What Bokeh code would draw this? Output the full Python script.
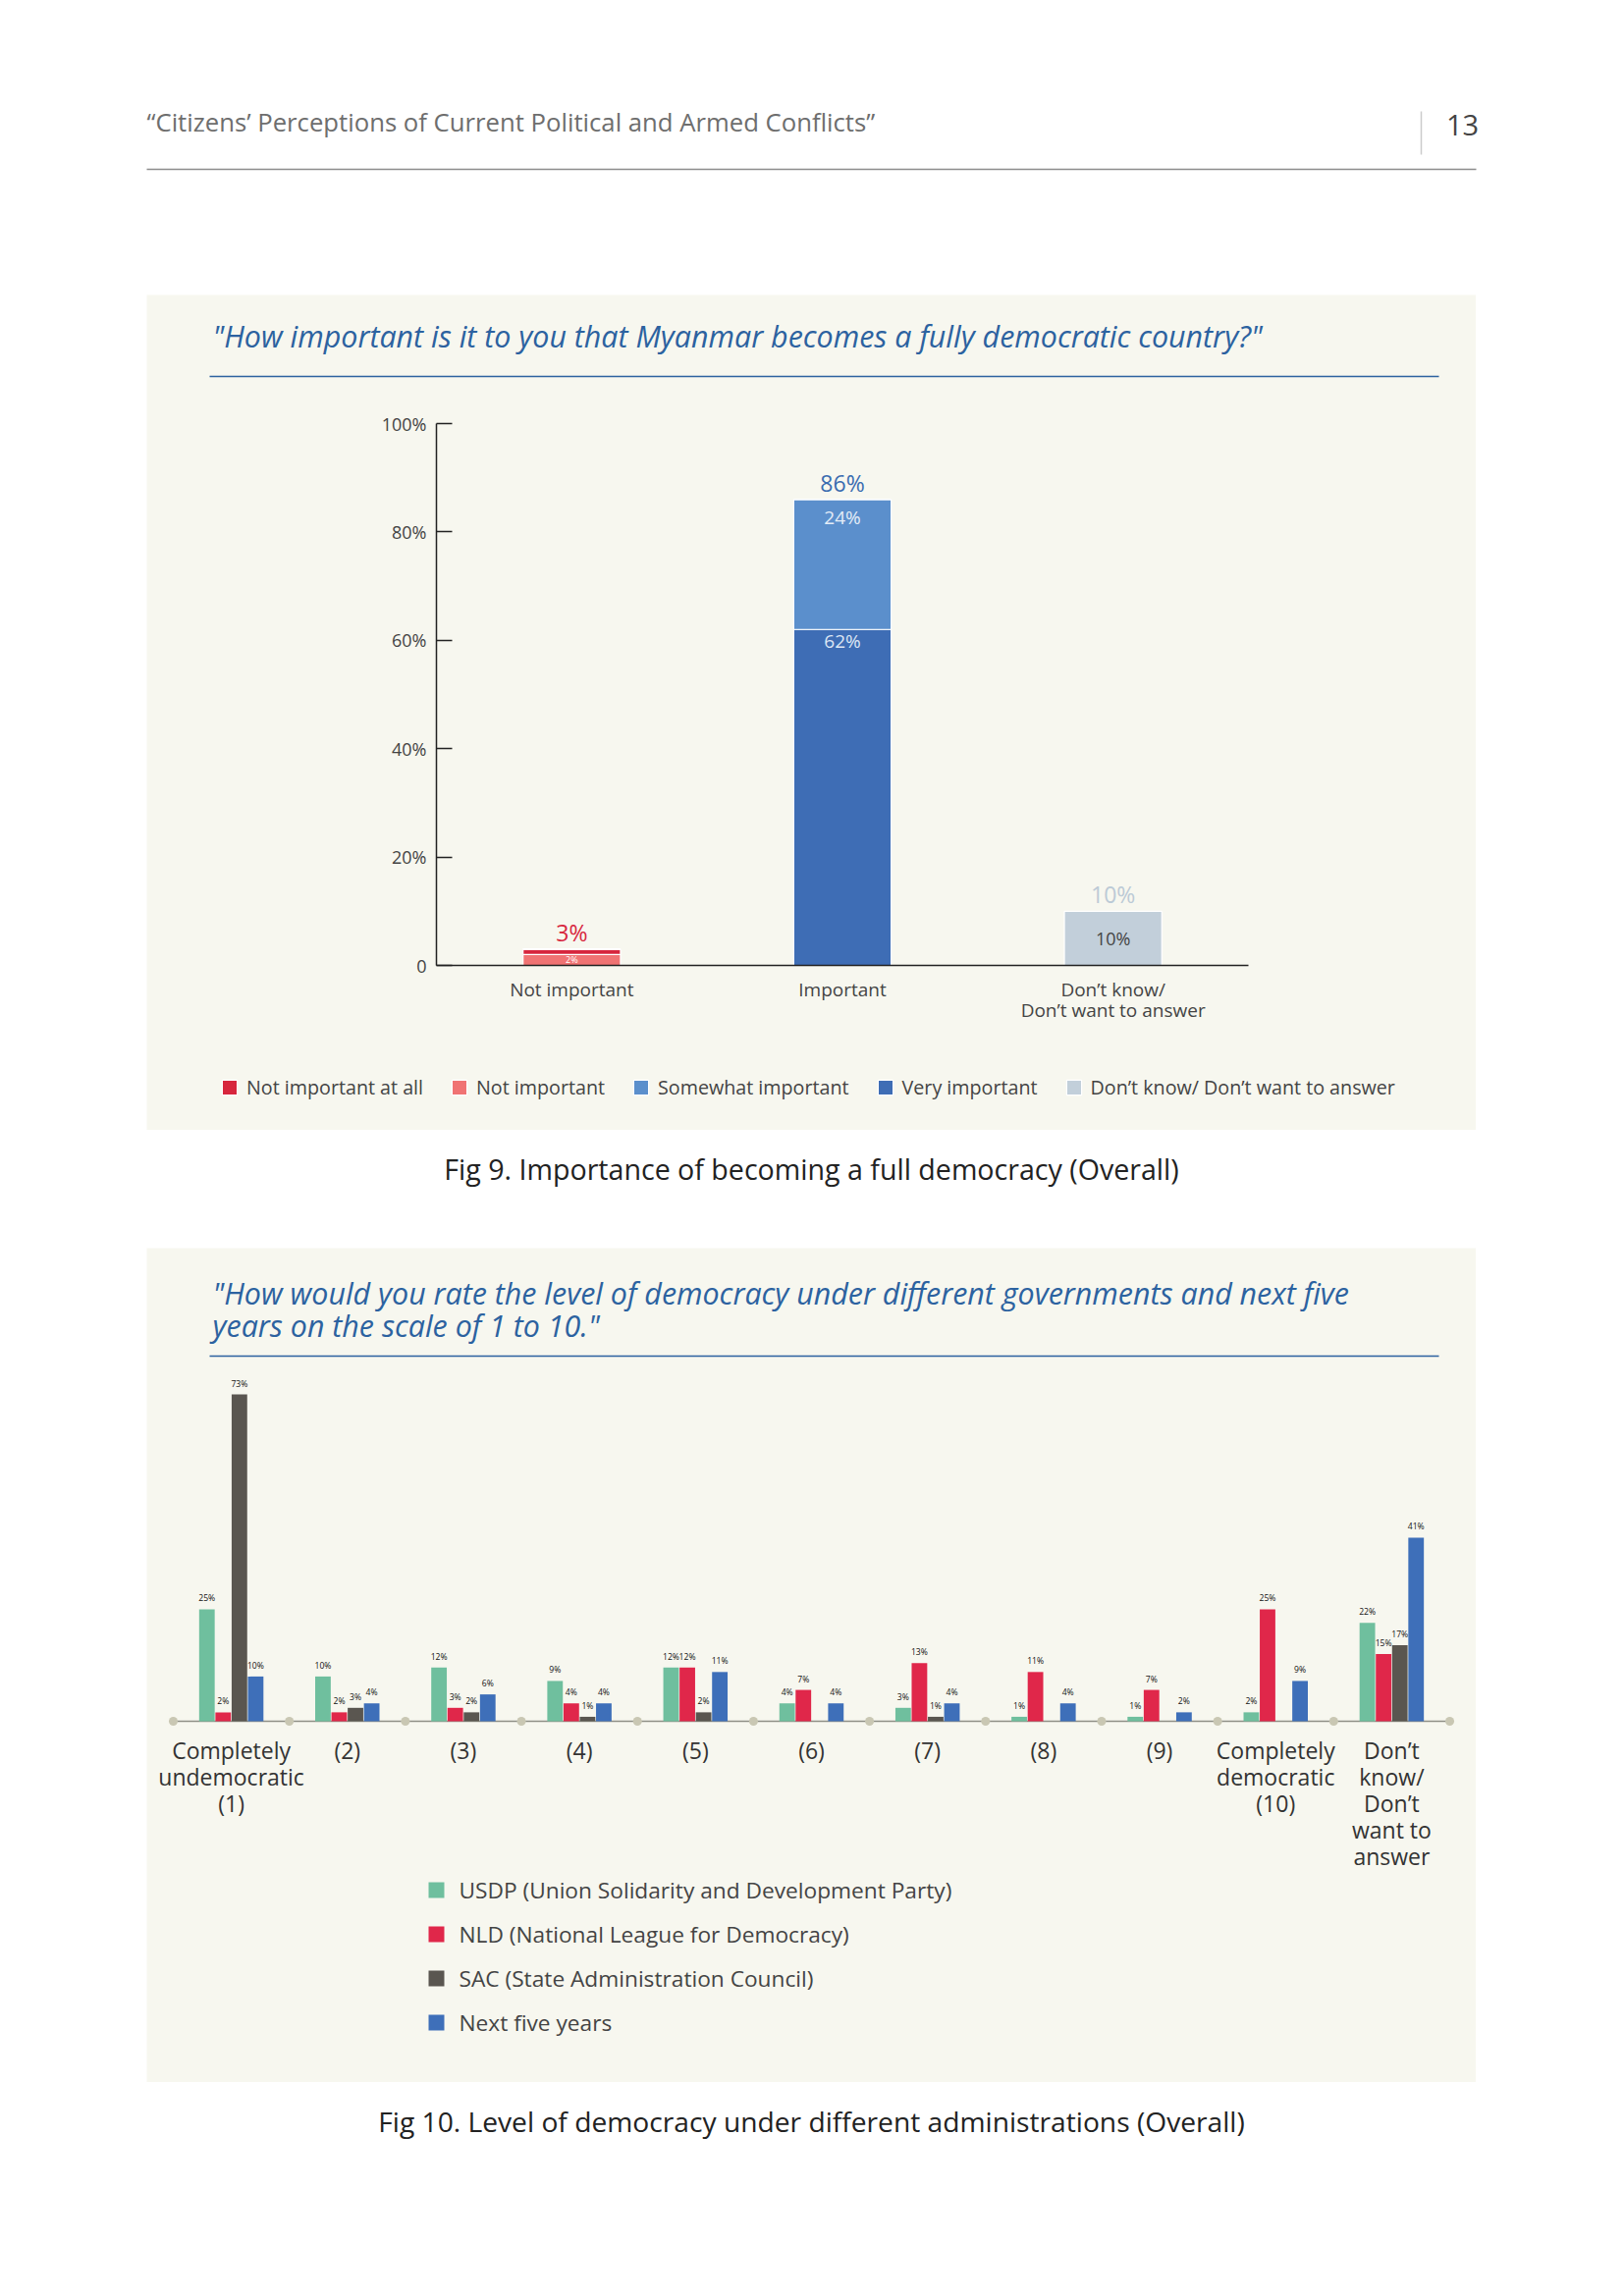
from bokeh.plotting import figure
from bokeh.models import (ColumnDataSource, Range1d, FactorRange, Label, Legend, LegendItem,
                          Spacer, Arrow, FixedTicker)
from bokeh.layouts import column, row
from bokeh.transform import dodge
from bokeh.core.properties import value
from bokeh.embed import file_html
from bokeh.resources import INLINE

FONT = "Open Sans"
BEIGE = "#f7f7ef"
TITLE_BLUE = "#2c62a0"

# ---------------- page texts ----------------
header_text = "\u201cCitizens\u2019 Perceptions of Current Political and Armed Conflicts\u201d"
page_number = "13"

# ---------------- Fig 9 data ----------------
fig9_title = "\"How important is it to you that Myanmar becomes a fully democratic country?\""
fig9_caption = "Fig 9. Importance of becoming a full democracy (Overall)"
cats9 = ["Not important", "Important", "Don\u2019t know/\nDon\u2019t want to answer"]
not_important_at_all = [1, 0, 0]
not_important = [2, 0, 0]
somewhat_important = [0, 24, 0]
very_important = [0, 62, 0]
dont_know = [0, 0, 10]
legend9 = ["Not important at all", "Not important", "Somewhat important",
           "Very important", "Don\u2019t know/ Don\u2019t want to answer"]
y_ticks9 = [0, 20, 40, 60, 80, 100]
y_tick_labels9 = ["0", "20%", "40%", "60%", "80%", "100%"]

# ---------------- Fig 10 data ----------------
fig10_title = ["\"How would you rate the level of democracy under different governments and next five",
               "years on the scale of 1 to 10.\""]
fig10_caption = "Fig 10. Level of democracy under different administrations (Overall)"
cats10 = ["Completely\nundemocratic\n(1)", "(2)", "(3)", "(4)", "(5)", "(6)", "(7)", "(8)", "(9)",
          "Completely\ndemocratic\n(10)", "Don\u2019t\nknow/\nDon\u2019t\nwant to\nanswer"]
usdp = [25, 10, 12, 9, 12, 4, 3, 1, 1, 2, 22]
nld = [2, 2, 3, 4, 12, 7, 13, 11, 7, 25, 15]
sac = [73, 3, 2, 1, 2, 0, 1, 0, 0, 0, 17]
next_five = [10, 4, 6, 4, 11, 4, 4, 4, 2, 9, 41]
series10 = ["USDP (Union Solidarity and Development Party)",
            "NLD (National League for Democracy)",
            "SAC (State Administration Council)",
            "Next five years"]

C_NIA, C_NI, C_SI, C_VI, C_DK = "#d7263d", "#f07373", "#5b8fcc", "#3e6db5", "#c2cfda"
C10 = ["#6fbf9e", "#e0274a", "#5a5650", "#3e6fb9"]

# ---------------- page geometry (pixels) ----------------
PAGE_W = 1640
PANEL_L, PANEL_R = 149, 1503
PANEL_W = PANEL_R - PANEL_L
P9_TOP, P9_BOT = 300, 1151
P10_TOP, P10_BOT = 1271, 2121


def decor_fig(width, height, y0):
    p = figure(width=width, height=height, x_range=Range1d(0, width),
               y_range=Range1d(y0 + height, y0), min_border=0, output_backend="svg",
               toolbar_location=None, x_axis_location=None, y_axis_location=None,
               outline_line_color=None, background_fill_color="white", border_fill_color="white")
    p.xgrid.visible = False
    p.ygrid.visible = False
    return p


def page_label(p, panel_bottom, x, y, text, **kw):
    p.add_layout(Label(x=x - PANEL_L, y=panel_bottom - y, x_units="screen", y_units="screen",
                       text=text, text_font=FONT, text_baseline="middle", **kw))


def page_rule(p, panel_bottom, x0, x1, y, color):
    p.add_layout(Arrow(x_start=x0 - PANEL_L, y_start=panel_bottom - y,
                       x_end=x1 - PANEL_L, y_end=panel_bottom - y,
                       start_units="screen", end_units="screen", start=None, end=None,
                       line_color=color, line_width=1.5))


# ---------------- header ----------------
head = decor_fig(PAGE_W, P9_TOP, 0)
head.text(x=[149], y=[124], text=[header_text], text_font=value(FONT), text_font_size="25.7px",
          text_color="#6e6e6e", text_baseline="middle", text_align="left")
head.text(x=[1489], y=[127], text=[page_number], text_font=value(FONT), text_font_size="29px",
          text_color="#444444", text_baseline="middle", text_align="center")
head.segment(x0=[1447], y0=[113], x1=[1447], y1=[157], line_color="#cccccc", line_width=1.5)
head.segment(x0=[149], y0=[172], x1=[1503], y1=[172], line_color="#8c8c8c", line_width=1.5)

# ---------------- Fig 9 ----------------
# chart area inside the panel: x 444..1271, y 431 (100%) .. 983 (0)
c9_left, c9_right, c9_top, c9_base = 444, 1271, 431, 983
u9x = (c9_right - c9_left) / len(cats9)
u9y = (c9_base - c9_top) / 100
x9 = list(range(len(cats9)))
p9 = figure(x_range=Range1d((PANEL_L - c9_left) / u9x - 0.5, (PANEL_R - c9_left) / u9x - 0.5),
            y_range=Range1d(-(P9_BOT - c9_base) / u9y, (c9_base - P9_TOP) / u9y),
            frame_width=PANEL_W, frame_height=P9_BOT - P9_TOP, min_border=0,
            output_backend="svg", toolbar_location=None, title=None,
            background_fill_color=BEIGE, border_fill_color=BEIGE, outline_line_color=None)
p9.xgrid.visible = False
p9.ygrid.visible = False

src9 = ColumnDataSource(dict(x=x9, ni=not_important, nia=not_important_at_all,
                             vi=very_important, si=somewhat_important, dk=dont_know))
r9 = p9.vbar_stack(["ni", "nia", "vi", "si", "dk"], x="x", width=0.36, source=src9,
                   fill_color=[C_NI, C_NIA, C_VI, C_SI, C_DK], line_color="white", line_width=1.2)

totals9 = [a + b + c + d + e for a, b, c, d, e in
           zip(not_important_at_all, not_important, somewhat_important, very_important, dont_know)]
src9t = ColumnDataSource(dict(x=x9, y=totals9, t=[f"{v}%" for v in totals9],
                              c=[C_NIA, "#3a6cb0", "#bccad6"]))
p9.text(x="x", y="y", text="t", text_color="c", source=src9t, text_align="center",
        text_baseline="middle", y_offset=-17, text_font=value(FONT), text_font_size="23px")

seg = dict(x=[x9[0], x9[1], x9[1], x9[2]],
           y=[not_important[0] / 2, very_important[1], very_important[1] + somewhat_important[1],
              dont_know[2] / 2],
           t=[f"{not_important[0]}%", f"{very_important[1]}%", f"{somewhat_important[1]}%",
              f"{dont_know[2]}%"],
           off=[0, 12, 18, 0],
           c=["#ffffff", "#dce6f4", "#e3ecf7", "#444444"],
           fs=["9px", "19px", "19px", "18px"])
p9.text(x="x", y="y", text="t", text_color="c", y_offset="off", text_font_size="fs",
        source=ColumnDataSource(seg), text_align="center", text_baseline="middle",
        text_font=value(FONT))

yax = p9.yaxis[0]
yax.fixed_location = -0.5
yax.bounds = (0, 100)
yax.ticker = FixedTicker(ticks=y_ticks9)
yax.major_label_overrides = dict(zip(y_ticks9, y_tick_labels9))
yax.major_tick_in = 16
yax.major_tick_out = 0
yax.minor_tick_line_color = None
yax.axis_line_color = "#222222"
yax.axis_line_width = 1.5
yax.major_tick_line_color = "#222222"
yax.major_tick_line_width = 1.5
yax.major_label_standoff = 10
yax.major_label_text_font = FONT
yax.major_label_text_font_size = "18px"
yax.major_label_text_color = "#444444"

xax = p9.xaxis[0]
xax.fixed_location = 0
xax.bounds = (-0.5, len(cats9) - 0.5)
xax.ticker = FixedTicker(ticks=x9)
xax.major_label_overrides = dict(zip(x9, cats9))
xax.major_tick_line_color = None
xax.minor_tick_line_color = None
xax.axis_line_color = "#222222"
xax.axis_line_width = 1.5
xax.major_label_standoff = 5
xax.major_label_text_font = FONT
xax.major_label_text_font_size = "19px"
xax.major_label_text_line_height = 0.82
xax.major_label_text_color = "#444444"

page_label(p9, P9_BOT, 216, 342, fig9_title, text_font_style="italic",
           text_font_size="30.4px", text_color=TITLE_BLUE)
page_rule(p9, P9_BOT, 213, 1465, 383, TITLE_BLUE)

order9 = [1, 0, 3, 2, 4]
leg9 = Legend(items=[LegendItem(label=legend9[i], renderers=[r9[j]]) for i, j in enumerate(order9)],
              orientation="horizontal", location=(75, P9_BOT - 1120.5), padding=0,
              spacing=27, glyph_width=19, glyph_height=19, label_height=19, label_standoff=8,
              label_text_font=FONT, label_text_font_size="19.7px", label_text_color="#444444",
              border_line_color=None, background_fill_alpha=0)
p9.add_layout(leg9)

# ---------------- caption 9 ----------------
cap9 = decor_fig(PAGE_W, P10_TOP - P9_BOT, P9_BOT)
cap9.text(x=[826], y=[1190], text=[fig9_caption], text_font=value(FONT), text_font_size="28.6px",
          text_color="#222222", text_baseline="middle", text_align="center")

# ---------------- Fig 10 ----------------
# categories span page x 176..1477, baseline at page y 1753, 73% reaches y 1420
c10_left, c10_right, c10_base, c10_top73 = 176, 1477, 1753, 1420
u10x = (c10_right - c10_left) / len(cats10)
u10y = (c10_base - c10_top73) / 73
pad10 = 2 * ((c10_left - PANEL_L) / u10x) / len(cats10)
p10 = figure(x_range=FactorRange(factors=cats10, range_padding=pad10),
             y_range=Range1d(-(P10_BOT - c10_base) / u10y, (c10_base - P10_TOP) / u10y),
             frame_width=PANEL_W, frame_height=P10_BOT - P10_TOP, min_border=0,
             output_backend="svg", toolbar_location=None, title=None, y_axis_location=None,
             background_fill_color=BEIGE, border_fill_color=BEIGE, outline_line_color=None)
p10.xgrid.visible = False
p10.ygrid.visible = False

src10 = ColumnDataSource(dict(cat=cats10, usdp=usdp, nld=nld, sac=sac, nxt=next_five,
                              zero=[0] * len(cats10)))
p10.segment(x0=dodge("cat", -0.5, range=p10.x_range), x1=dodge("cat", 0.5, range=p10.x_range),
            y0="zero", y1="zero", source=src10, line_color="#8f8f86", line_width=1.5)

offsets = [-0.21, -0.07, 0.07, 0.21]
fields = ["usdp", "nld", "sac", "nxt"]
values10 = [usdp, nld, sac, next_five]
bars10 = []
for off, fld, col, vals in zip(offsets, fields, C10, values10):
    r = p10.vbar(x=dodge("cat", off, range=p10.x_range), top=fld, width=0.134, source=src10,
                 fill_color=col, line_color=None)
    bars10.append(r)
    keep = [i for i, v in enumerate(vals) if v > 0]
    lsrc = ColumnDataSource(dict(cat=[cats10[i] for i in keep], y=[vals[i] for i in keep],
                                 t=[f"{vals[i]}%" for i in keep]))
    p10.text(x=dodge("cat", off, range=p10.x_range), y="y", text="t", source=lsrc,
             text_align="center", text_baseline="middle", y_offset=-11,
             text_font=value(FONT), text_font_size="8.6px", text_color="#111111")

p10.scatter(x=dodge("cat", -0.5, range=p10.x_range), y="zero", source=src10, size=9,
            fill_color="#c9c7b3", line_color=None)
p10.scatter(x=dodge("cat", 0.5, range=p10.x_range), y="zero",
            source=ColumnDataSource(dict(cat=cats10[-1:], zero=[0])), size=9,
            fill_color="#c9c7b3", line_color=None)

xax10 = p10.xaxis[0]
xax10.fixed_location = 0
xax10.axis_line_color = None
xax10.major_tick_line_color = None
xax10.minor_tick_line_color = None
xax10.major_label_standoff = 7
xax10.major_label_text_font = FONT
xax10.major_label_text_font_size = "23px"
xax10.major_label_text_line_height = 0.85
xax10.major_label_text_color = "#333333"

page_label(p10, P10_BOT, 216, 1317, fig10_title[0], text_font_style="italic",
           text_font_size="30.4px", text_color=TITLE_BLUE)
page_label(p10, P10_BOT, 216, 1350, fig10_title[1], text_font_style="italic",
           text_font_size="30.4px", text_color=TITLE_BLUE)
page_rule(p10, P10_BOT, 213, 1465, 1381, TITLE_BLUE)

leg10 = Legend(items=[LegendItem(label=s, renderers=[r]) for s, r in zip(series10, bars10)],
               orientation="vertical", location=(433.5 - PANEL_L, P10_BOT - 2075.5),
               padding=0, spacing=14, glyph_width=20, glyph_height=20, label_height=20,
               label_standoff=14, label_text_font=FONT, label_text_font_size="22.7px",
               label_text_color="#444444", border_line_color=None, background_fill_alpha=0)
p10.add_layout(leg10)

# ---------------- caption 10 ----------------
cap10 = decor_fig(PAGE_W, 200, P10_BOT)
cap10.text(x=[826], y=[2160], text=[fig10_caption], text_font=value(FONT), text_font_size="28.2px",
           text_color="#222222", text_baseline="middle", text_align="center")

layout = column(head,
                row(Spacer(width=PANEL_L, height=P9_BOT - P9_TOP), p9),
                cap9,
                row(Spacer(width=PANEL_L, height=P10_BOT - P10_TOP), p10),
                cap10)

open("out.html", "w").write(file_html(layout, INLINE))
